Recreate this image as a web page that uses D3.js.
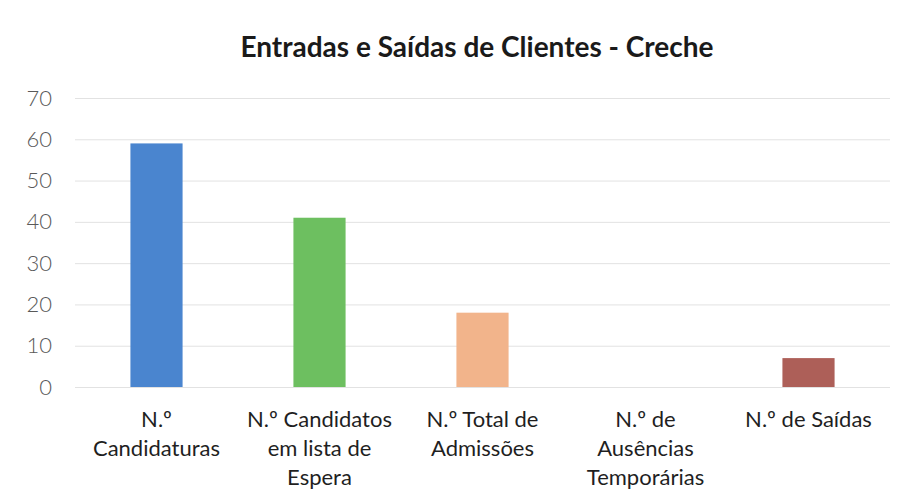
<!DOCTYPE html>
<html>
<head>
<meta charset="utf-8">
<script src="https://cdn.jsdelivr.net/npm/d3@7"></script>
<style>
  body { margin: 0; background: #fff; }
  text { font-family: Lato, "Open Sans", sans-serif; }
</style>
</head>
<body>
<svg width="907" height="500"></svg>
<script>
// Chart data
const categories = [
  ["N.º", "Candidaturas"],
  ["N.º Candidatos", "em lista de", "Espera"],
  ["N.º Total de", "Admissões"],
  ["N.º de", "Ausências", "Temporárias"],
  ["N.º de Saídas"]
];
const values = [59, 41, 18, 0, 7];
const barColors = ["#4a85cf", "#6dbf60", "#f2b48b", "#8a8a8a", "#ad5f58"];
const yTicks = [0, 10, 20, 30, 40, 50, 60, 70];

const svg = d3.select("svg"),
  width = +svg.attr("width"),
  height = +svg.attr("height"),
  margin = { top: 98, right: 17, bottom: 113, left: 75 };

// scales
const x = d3.scaleBand()
  .domain(d3.range(values.length))
  .range([margin.left, width - margin.right])
  .paddingInner(0.68)
  .paddingOuter(0.34);

const y = d3.scaleLinear().domain([0, 70]).range([height - margin.bottom, margin.top]);

// title
svg.append("text")
  .attr("x", 477)
  .attr("y", 57)
  .attr("text-anchor", "middle")
  .style("font-size", "28px")
  .style("font-weight", "bold")
  .style("fill", "#1a1a1a")
  .text("Entradas e Saídas de Clientes - Creche");

// gridlines + y labels
const yAxis = svg.append("g")
  .attr("transform", `translate(${margin.left},0)`)
  .call(d3.axisLeft(y).tickValues(yTicks).tickSize(-(width - margin.left - margin.right)).tickPadding(23));
yAxis.select(".domain").remove();
yAxis.selectAll(".tick line").attr("stroke", "#e2e2e2").attr("stroke-width", 1);
yAxis.selectAll(".tick text")
  .style("font-size", "22px")
  .style("font-family", "Lato, sans-serif")
  .style("font-weight", 300)
  .attr("fill", "#595959");

// bars
svg.append("g")
  .selectAll("rect")
  .data(values)
  .join("rect")
  .attr("x", (d, i) => x(i))
  .attr("y", d => y(d))
  .attr("width", x.bandwidth())
  .attr("height", d => y(0) - y(d))
  .attr("fill", (d, i) => barColors[i]);

// category labels
const labels = svg.append("g")
  .selectAll("text")
  .data(categories)
  .join("text")
  .attr("text-anchor", "middle")
  .attr("x", (d, i) => x(i) + x.bandwidth() / 2)
  .attr("y", 427)
  .style("font-size", "22px")
  .style("fill", "#1f1f1f");

labels.selectAll("tspan")
  .data(d => d)
  .join("tspan")
  .attr("x", function () { return d3.select(this.parentNode).attr("x"); })
  .attr("dy", (d, i) => i === 0 ? 0 : 29)
  .text(d => d);
</script>
</body>
</html>
